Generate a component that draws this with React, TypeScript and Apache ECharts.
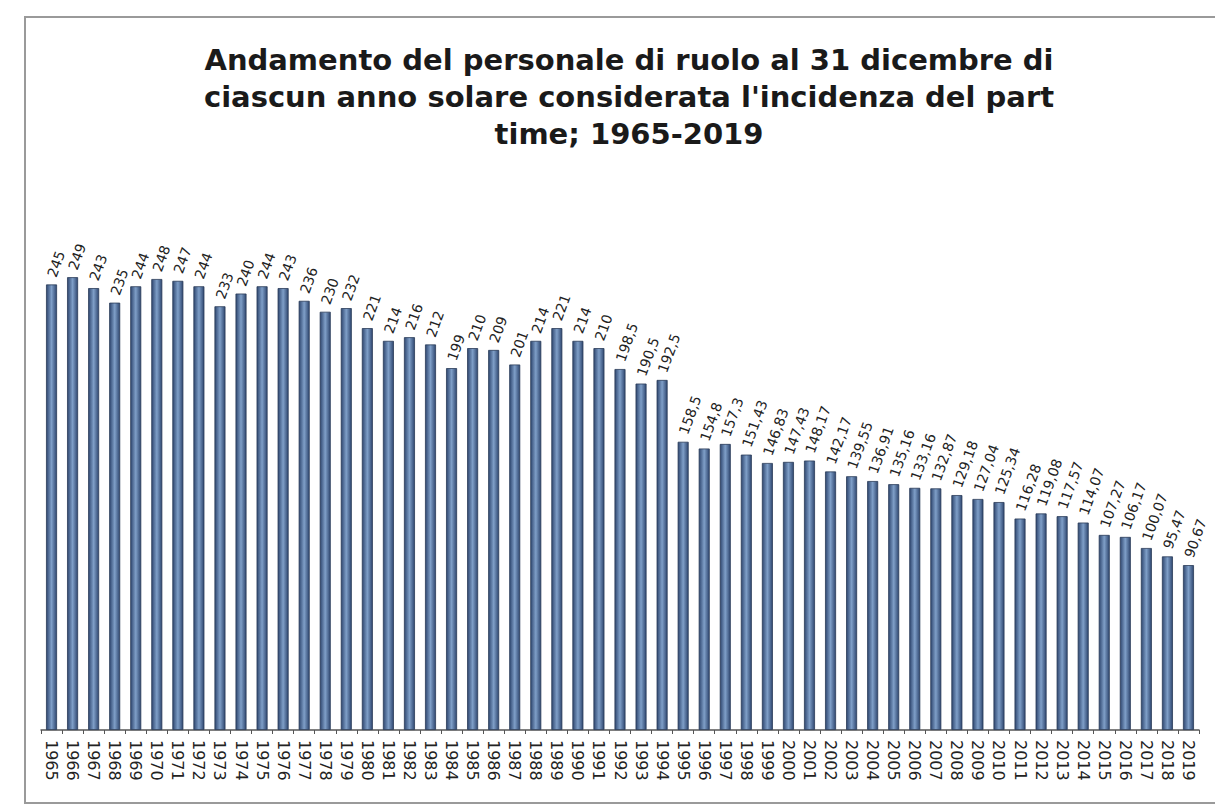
import React, { useEffect, useRef } from "react";
import * as echarts from "echarts";

const years: string[] = [
  "1965","1966","1967","1968","1969","1970","1971","1972","1973","1974",
  "1975","1976","1977","1978","1979","1980","1981","1982","1983","1984",
  "1985","1986","1987","1988","1989","1990","1991","1992","1993","1994",
  "1995","1996","1997","1998","1999","2000","2001","2002","2003","2004",
  "2005","2006","2007","2008","2009","2010","2011","2012","2013","2014",
  "2015","2016","2017","2018","2019",
];

const personale: number[] = [
  245, 249, 243, 235, 244, 248, 247, 244, 233, 240,
  244, 243, 236, 230, 232, 221, 214, 216, 212, 199,
  210, 209, 201, 214, 221, 214, 210, 198.5, 190.5, 192.5,
  158.5, 154.8, 157.3, 151.43, 146.83, 147.43, 148.17, 142.17, 139.55, 136.91,
  135.16, 133.16, 132.87, 129.18, 127.04, 125.34, 116.28, 119.08, 117.57, 114.07,
  107.27, 106.17, 100.07, 95.47, 90.67,
];

const titleText =
  "Andamento del personale di ruolo al 31 dicembre di\nciascun anno solare considerata l'incidenza del part\ntime; 1965-2019";

export default function App() {
  const ref = useRef<HTMLDivElement>(null);
  useEffect(() => {
    if (!ref.current) return;
    const chart = echarts.init(ref.current, null, { renderer: "svg" });
    chart.setOption({
      animation: false,
      backgroundColor: "#ffffff",
      title: {
        text: titleText,
        left: 624,
        textAlign: "center",
        top: 36,
        textStyle: {
          fontFamily: "DejaVu Sans, Liberation Sans, Arial, sans-serif",
          fontWeight: "bold",
          fontSize: 29,
          lineHeight: 37,
          color: "#1a1a1a",
        },
      },
      graphic: [
        {
          type: "rect",
          shape: { x: 25, y: 17, width: 1200, height: 786 },
          style: { fill: "none", stroke: "#9a9a9a", lineWidth: 2 },
          silent: true,
        },
      ],
      grid: { left: 41, right: 16, top: 239, bottom: 79 },
      xAxis: {
        type: "category",
        data: years,
        axisLine: { lineStyle: { color: "#555", width: 1.5 } },
        axisTick: { show: true, length: 4, lineStyle: { color: "#555" } },
        axisLabel: {
          interval: 0,
          rotate: -90,
          fontSize: 16,
          color: "#222",
          fontFamily: "DejaVu Sans, Liberation Sans, Arial, sans-serif",
          margin: 10,
        },
      },
      yAxis: {
        type: "value",
        min: 0,
        max: 270,
        show: false,
        splitLine: { show: false },
      },
      series: [
        {
          type: "bar",
          data: personale,
          barWidth: 11,
          itemStyle: {
            color: new echarts.graphic.LinearGradient(0, 0, 1, 0, [
              { offset: 0, color: "#2f4770" },
              { offset: 0.5, color: "#7f9fc8" },
              { offset: 1, color: "#2f4770" },
            ]),
            borderColor: "#2a3b58",
            borderWidth: 0.8,
          },
          label: {
            show: true,
            position: "top",
            rotate: 70,
            align: "left",
            verticalAlign: "middle",
            distance: 8,
            fontSize: 14,
            color: "#222",
            fontFamily: "DejaVu Sans, Liberation Sans, Arial, sans-serif",
            formatter: (p: any) => String(p.value).replace(".", ","),
          },
        },
      ],
    });
    return () => chart.dispose();
  }, []);
  return (
    <div
      ref={ref}
      style={{ position: "fixed", left: 0, top: 0, width: 1215, height: 809 }}
    />
  );
}
